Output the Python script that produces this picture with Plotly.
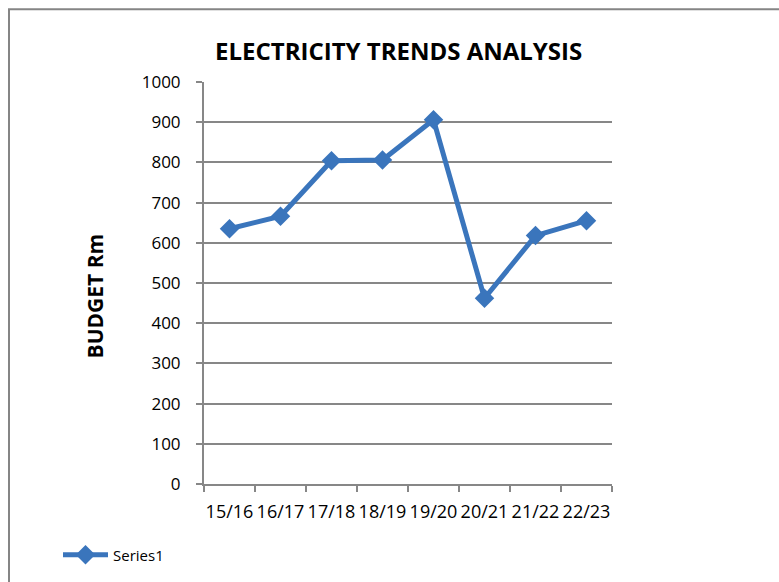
import plotly.graph_objects as go

categories = ["15/16", "16/17", "17/18", "18/19", "19/20", "20/21", "21/22", "22/23"]
budget = [635, 666, 804, 806, 906, 462, 618, 655]
y_ticks = [0, 100, 200, 300, 400, 500, 600, 700, 800, 900, 1000]

W, H = 779, 582
L, R, T, B = 204, 612, 82, 485

def px_x(p):
    return (p - L) / (R - L)

def px_y(p):
    return (B - p) / (B - T)

FONT = "Open Sans"
GRID = "#878787"
BLUE = "#3A75BC"

fig = go.Figure()
fig.add_trace(go.Scatter(
    x=categories, y=budget, mode="lines+markers", name="Series1",
    line=dict(color=BLUE, width=5),
    marker=dict(symbol="diamond", size=15, color=BLUE),
))

fig.update_layout(
    width=W, height=H,
    margin=dict(l=L, r=W - R, t=T, b=H - B),
    paper_bgcolor="white", plot_bgcolor="white",
    font=dict(family=FONT, color="#000000", size=17),
    showlegend=True,
    legend=dict(x=px_x(58), y=px_y(555), xanchor="left", yanchor="middle",
                font=dict(family=FONT, size=15, color="#000"),
                bgcolor="rgba(0,0,0,0)", itemwidth=45),
    xaxis=dict(type="category", range=[-0.5, len(categories) - 0.5],
               showline=True, linecolor=GRID, linewidth=2,
               ticks="outside", tickson="boundaries", ticklen=6, tickcolor=GRID, tickwidth=2,
               showgrid=False, ticklabelstandoff=10, tickangle=0,
               tickfont=dict(family=FONT, size=18)),
    yaxis=dict(range=[0, 1000], tickvals=y_ticks, ticktext=[str(v) for v in y_ticks],
               showline=True, linecolor=GRID, linewidth=2,
               ticks="outside", ticklen=6, tickcolor=GRID, tickwidth=2,
               showgrid=True, gridcolor=GRID, gridwidth=2, zeroline=False,
               ticklabelstandoff=12,
               tickfont=dict(family=FONT, size=17)),
    annotations=[
        dict(text="<b>ELECTRICITY TRENDS ANALYSIS</b>", xref="paper", yref="paper",
             x=px_x(398), y=px_y(50), xanchor="center", yanchor="middle",
             showarrow=False, font=dict(family=FONT, size=24, color="#000")),
        dict(text="<b>BUDGET Rm</b>", xref="paper", yref="paper",
             x=px_x(95), y=px_y(297), xanchor="center", yanchor="middle",
             textangle=-90, showarrow=False, font=dict(family=FONT, size=21, color="#000")),
    ],
    shapes=[
        dict(type="line", xref="paper", yref="paper",
             x0=px_x(9), x1=px_x(9), y0=px_y(9), y1=px_y(600),
             line=dict(color="#858585", width=2)),
        dict(type="line", xref="paper", yref="paper",
             x0=px_x(8), x1=px_x(800), y0=px_y(9), y1=px_y(9),
             line=dict(color="#858585", width=2)),
    ],
)

fig.write_html("out.html")
